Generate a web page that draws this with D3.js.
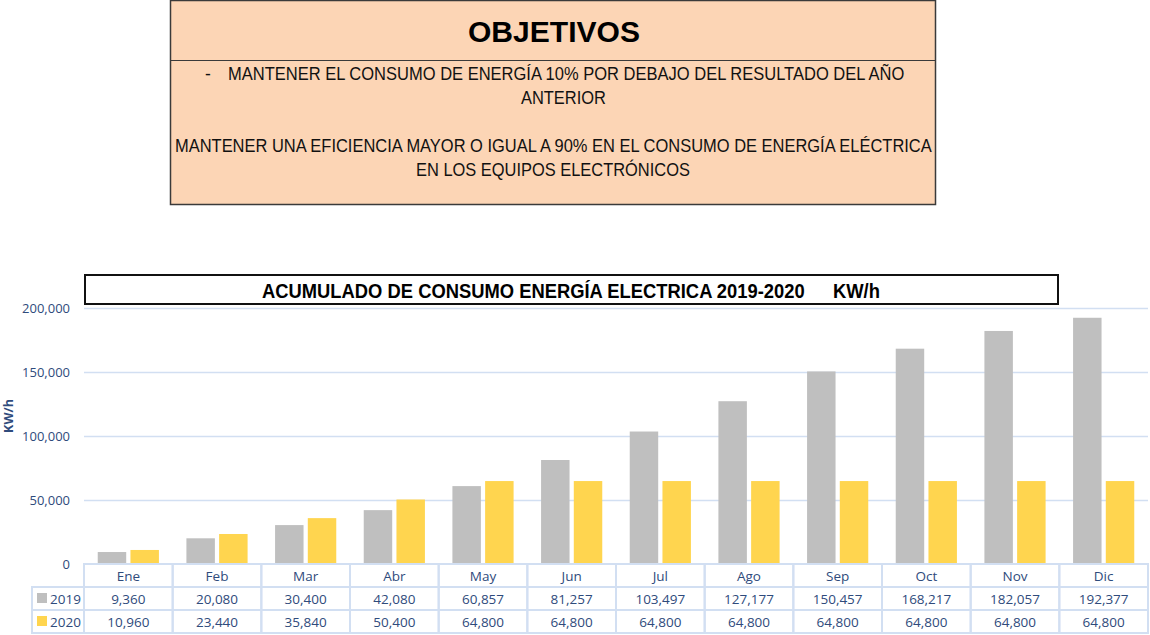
<!DOCTYPE html>
<html><head><meta charset="utf-8">
<script src="https://cdn.jsdelivr.net/npm/d3@7"></script>
<style>body{margin:0;background:#fff}svg{display:block}</style>
</head><body>
<svg id="c" width="1150" height="635"></svg>
<script>
const months = ["Ene","Feb","Mar","Abr","May","Jun","Jul","Ago","Sep","Oct","Nov","Dic"];
const series = ["2019","2020"];
const values2019 = [9360,20080,30400,42080,60857,81257,103497,127177,150457,168217,182057,192377];
const values2020 = [10960,23440,35840,50400,64800,64800,64800,64800,64800,64800,64800,64800];
const yTicks = [0,50000,100000,150000,200000];
const colors = ["#BFBFBF","#FFD54F"];
const chartTitle = "ACUMULADO DE CONSUMO ENERGÍA ELECTRICA 2019-2020";
const unitLabel = "KW/h";
const objTitle = "OBJETIVOS";

const svg = d3.select("#c");
const narrow = "'Liberation Sans Narrow','Arial Narrow','Liberation Sans',Arial,sans-serif";
const body = "'Open Sans','Noto Sans',sans-serif";
const blue = "#2F4B7C";
const gridC = "#D2DFF2";

// helper: draw text horizontally condensed to a target width via transform
function fitText(sel, str, xPos, yPos, width, attrs){
  const g = sel.append("g");
  const t = g.append("text").attr("x",0).attr("y",0).text(str);
  Object.entries(attrs).forEach(([k,v])=>t.attr(k,v));
  const w = t.node().getComputedTextLength();
  const s = width && w>0 ? width/w : 1;
  g.attr("transform",`translate(${xPos},${yPos}) scale(${s},1)`);
  return t;
}

// Objectives box
svg.append("rect").attr("x",170.5).attr("y",0.5).attr("width",765).attr("height",204)
  .attr("fill","#FCD5B5").attr("stroke","#3a3a3a").attr("stroke-width",1.5);
svg.append("line").attr("x1",170).attr("x2",936).attr("y1",60.5).attr("y2",60.5).attr("stroke","#3a3a3a");
fitText(svg, objTitle, 468, 42, 172, {"font-family":"'Liberation Sans',Arial,sans-serif","font-weight":"bold","font-size":30,"fill":"#000"});
const objLines = [
  {t:"-", x:205, y:80, w:null},
  {t:"MANTENER EL CONSUMO DE ENERGÍA 10% POR DEBAJO DEL RESULTADO DEL AÑO", x:228, y:80, w:677},
  {t:"ANTERIOR", x:521, y:104, w:85},
  {t:"MANTENER UNA EFICIENCIA MAYOR O IGUAL A 90% EN EL CONSUMO DE ENERGÍA ELÉCTRICA", x:175, y:152, w:757},
  {t:"EN LOS EQUIPOS ELECTRÓNICOS", x:416, y:176, w:274}
];
objLines.forEach(l=>{
  fitText(svg, l.t, l.x, l.y, l.w, {"font-family":narrow,"font-size":17.5,"fill":"#111"});
});

// Chart
const x0 = 84, x1 = 1148, yTop = 308, yBot = 564;
const x = d3.scaleBand().domain(months).range([x0,x1]).paddingInner(0).paddingOuter(0);
const xs = d3.scaleBand().domain(series).range([0,x.bandwidth()]).paddingInner(0.13).paddingOuter(0.42);
const y = d3.scaleLinear().domain([0,200000]).range([yBot,yTop]);

// gridlines
svg.append("g").selectAll("line").data(yTicks.filter(d=>d>0)).join("line")
  .attr("x1",x0).attr("x2",x1).attr("y1",d=>Math.round(y(d))+0.5).attr("y2",d=>Math.round(y(d))+0.5)
  .attr("stroke",gridC).attr("stroke-width",1.5);

// y axis labels
const yAxis = d3.axisLeft(y).tickValues(yTicks).tickFormat(d3.format(",")).tickSize(0).tickPadding(14);
const ga = svg.append("g").attr("transform",`translate(${x0},0)`).call(yAxis);
ga.select(".domain").remove();
ga.selectAll("text").attr("font-family",body).attr("font-size",13).attr("fill",blue);

svg.append("text").attr("transform",`translate(13,416) rotate(-90)`).attr("text-anchor","middle")
  .attr("font-family",body).attr("font-weight","bold").attr("font-size",12.5).attr("fill",blue).text(unitLabel);

// bars
const data = months.map((m,i)=>({m, v:[values2019[i],values2020[i]]}));
const groups = svg.append("g").selectAll("g").data(data).join("g")
  .attr("transform",d=>`translate(${x(d.m)},0)`);
groups.selectAll("rect").data(d=>series.map((s,j)=>({s,v:d.v[j],j}))).join("rect")
  .attr("x",d=>xs(d.s)).attr("width",xs.bandwidth())
  .attr("y",d=>y(d.v)).attr("height",d=>yBot-y(d.v))
  .attr("fill",d=>colors[d.j]);

// Title box
svg.append("rect").attr("x",85).attr("y",275).attr("width",973).attr("height",29)
  .attr("fill","#fff").attr("stroke","#111").attr("stroke-width",2);
const tAttrs = {"font-family":narrow,"font-weight":"bold","font-size":19.5,"fill":"#000"};
fitText(svg, chartTitle, 262, 298, 543, tAttrs);
fitText(svg, unitLabel, 833, 298, 47, tAttrs);

// Data table
const rowH = 23, tLeft = 32;
const tab = svg.append("g");
const fs = 13.5;
months.forEach(m=>{
  tab.append("rect").attr("x",x(m)).attr("y",yBot).attr("width",x.bandwidth()).attr("height",rowH)
    .attr("fill","none").attr("stroke",gridC).attr("stroke-width",2);
  tab.append("text").attr("x",x(m)+x.bandwidth()/2).attr("y",yBot+16.5).attr("text-anchor","middle")
    .attr("font-family",body).attr("font-size",fs).attr("fill",blue).text(m);
});
const fmt = d3.format(",");
[values2019,values2020].forEach((vals,r)=>{
  const ry = yBot + rowH*(r+1);
  tab.append("rect").attr("x",tLeft).attr("y",ry).attr("width",x0-tLeft).attr("height",rowH)
    .attr("fill","none").attr("stroke",gridC).attr("stroke-width",2);
  tab.append("rect").attr("x",37).attr("y",ry+6).attr("width",10).attr("height",10).attr("fill",colors[r]);
  tab.append("text").attr("x",50).attr("y",ry+16.5).attr("font-family",body).attr("font-size",fs)
    .attr("fill",blue).text(series[r]);
  months.forEach((m,i)=>{
    tab.append("rect").attr("x",x(m)).attr("y",ry).attr("width",x.bandwidth()).attr("height",rowH)
      .attr("fill","none").attr("stroke",gridC).attr("stroke-width",2);
    tab.append("text").attr("x",x(m)+x.bandwidth()/2).attr("y",ry+16.5).attr("text-anchor","middle")
      .attr("font-family",body).attr("font-size",fs).attr("fill",blue).text(fmt(vals[i]));
  });
});
</script>
</body></html>
